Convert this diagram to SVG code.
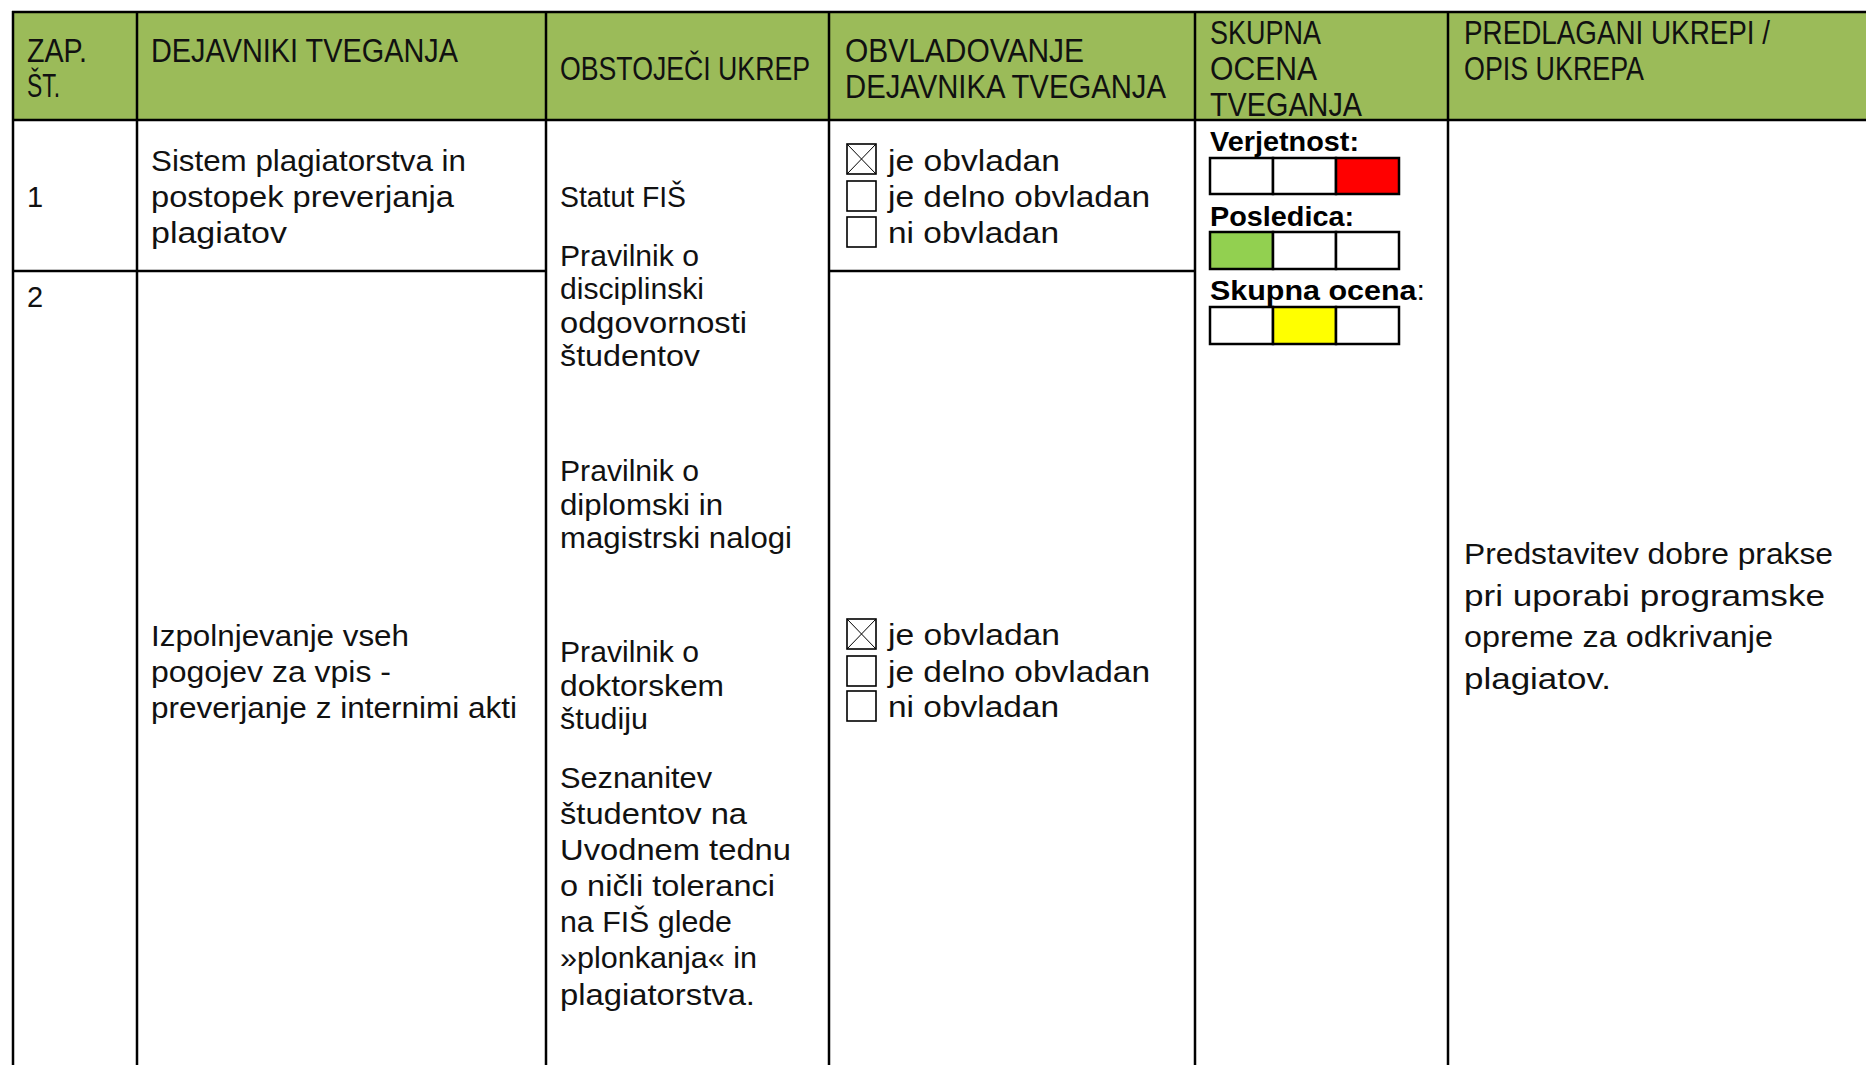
<svg xmlns="http://www.w3.org/2000/svg" width="1866" height="1065" viewBox="0 0 1866 1065">
<style>
.ln{stroke:#000;stroke-width:2.5;fill:none}
.h{font-family:"Liberation Sans",Arial,sans-serif;font-size:33px;fill:#111}
.t{font-family:"Liberation Sans",Arial,sans-serif;font-size:29px;fill:#111}
.b{font-family:"Liberation Sans",Arial,sans-serif;font-size:28px;font-weight:bold;fill:#000}
.cb{fill:#fff;stroke:#000;stroke-width:1.6}
.x{stroke:#000;stroke-width:1}
.sq{stroke:#000;stroke-width:2.5}
</style>
<defs>
<g id="box"><rect class="cb" x="0" y="0" width="29" height="30"/></g>
<g id="xbox"><rect class="cb" x="0" y="0" width="29" height="30"/><path class="x" d="M0,0L29,30M29,0L0,30"/></g>
</defs>
<rect x="0" y="0" width="1866" height="1065" fill="#fff"/>
<rect x="13" y="12" width="1853" height="108" fill="#9BBB59"/>

<g id="grid">
<path class="ln" d="M12,12H1866M12,120H1866M12,271H546M829,271H1195"/>
<path class="ln" d="M13,11V1065M137,11V1065M546,11V1065M829,11V1065M1195,11V1065M1448,11V1065"/>
</g>

<g id="header">
<text class="h" x="27" y="62" textLength="60" lengthAdjust="spacingAndGlyphs">ZAP.</text>
<text class="h" x="27" y="97" textLength="33" lengthAdjust="spacingAndGlyphs">ŠT.</text>
<text class="h" x="151" y="62" textLength="307" lengthAdjust="spacingAndGlyphs">DEJAVNIKI TVEGANJA</text>
<text class="h" x="560" y="80" textLength="250" lengthAdjust="spacingAndGlyphs">OBSTOJEČI UKREP</text>
<text class="h" x="845" y="62" textLength="239" lengthAdjust="spacingAndGlyphs">OBVLADOVANJE</text>
<text class="h" x="845" y="98" textLength="321" lengthAdjust="spacingAndGlyphs">DEJAVNIKA TVEGANJA</text>
<text class="h" x="1210" y="44" textLength="111" lengthAdjust="spacingAndGlyphs">SKUPNA</text>
<text class="h" x="1210" y="80" textLength="107" lengthAdjust="spacingAndGlyphs">OCENA</text>
<text class="h" x="1210" y="116" textLength="152" lengthAdjust="spacingAndGlyphs">TVEGANJA</text>
<text class="h" x="1464" y="44" textLength="306" lengthAdjust="spacingAndGlyphs">PREDLAGANI UKREPI /</text>
<text class="h" x="1464" y="80" textLength="180" lengthAdjust="spacingAndGlyphs">OPIS UKREPA</text>
</g>

<g id="row1">
<text class="t" x="27" y="207">1</text>
<text class="t" x="151" y="171" textLength="315" lengthAdjust="spacingAndGlyphs">Sistem plagiatorstva in</text>
<text class="t" x="151" y="207" textLength="303" lengthAdjust="spacingAndGlyphs">postopek preverjanja</text>
<text class="t" x="151" y="243" textLength="136" lengthAdjust="spacingAndGlyphs">plagiatov</text>
</g>

<g id="row2">
<text class="t" x="27" y="307">2</text>
<text class="t" x="151" y="646" textLength="258" lengthAdjust="spacingAndGlyphs">Izpolnjevanje vseh</text>
<text class="t" x="151" y="682" textLength="240" lengthAdjust="spacingAndGlyphs">pogojev za vpis -</text>
<text class="t" x="151" y="718" textLength="366" lengthAdjust="spacingAndGlyphs">preverjanje z internimi akti</text>
</g>

<g id="ukrepi">
<text class="t" x="560" y="207" textLength="126" lengthAdjust="spacingAndGlyphs">Statut FIŠ</text>
<text class="t" x="560" y="266" textLength="139" lengthAdjust="spacingAndGlyphs">Pravilnik o</text>
<text class="t" x="560" y="299" textLength="144" lengthAdjust="spacingAndGlyphs">disciplinski</text>
<text class="t" x="560" y="333" textLength="187" lengthAdjust="spacingAndGlyphs">odgovornosti</text>
<text class="t" x="560" y="366" textLength="140" lengthAdjust="spacingAndGlyphs">študentov</text>
<text class="t" x="560" y="481" textLength="139" lengthAdjust="spacingAndGlyphs">Pravilnik o</text>
<text class="t" x="560" y="515" textLength="163" lengthAdjust="spacingAndGlyphs">diplomski in</text>
<text class="t" x="560" y="548" textLength="232" lengthAdjust="spacingAndGlyphs">magistrski nalogi</text>
<text class="t" x="560" y="662" textLength="139" lengthAdjust="spacingAndGlyphs">Pravilnik o</text>
<text class="t" x="560" y="696" textLength="164" lengthAdjust="spacingAndGlyphs">doktorskem</text>
<text class="t" x="560" y="729" textLength="88" lengthAdjust="spacingAndGlyphs">študiju</text>
<text class="t" x="560" y="788" textLength="152" lengthAdjust="spacingAndGlyphs">Seznanitev</text>
<text class="t" x="560" y="824" textLength="187" lengthAdjust="spacingAndGlyphs">študentov na</text>
<text class="t" x="560" y="860" textLength="231" lengthAdjust="spacingAndGlyphs">Uvodnem tednu</text>
<text class="t" x="560" y="896" textLength="215" lengthAdjust="spacingAndGlyphs">o ničli toleranci</text>
<text class="t" x="560" y="932" textLength="172" lengthAdjust="spacingAndGlyphs">na FIŠ glede</text>
<text class="t" x="560" y="968" textLength="197" lengthAdjust="spacingAndGlyphs">»plonkanja« in</text>
<text class="t" x="560" y="1005" textLength="195" lengthAdjust="spacingAndGlyphs">plagiatorstva.</text>
</g>

<g id="obvladovanje1">
<use href="#xbox" x="847" y="144"/>
<use href="#box" x="847" y="181"/>
<use href="#box" x="847" y="217"/>
<text class="t" x="888" y="171" textLength="172" lengthAdjust="spacingAndGlyphs">je obvladan</text>
<text class="t" x="888" y="207" textLength="262" lengthAdjust="spacingAndGlyphs">je delno obvladan</text>
<text class="t" x="888" y="243" textLength="171" lengthAdjust="spacingAndGlyphs">ni obvladan</text>
</g>

<g id="obvladovanje2">
<use href="#xbox" x="847" y="619"/>
<use href="#box" x="847" y="656"/>
<use href="#box" x="847" y="691"/>
<text class="t" x="888" y="645" textLength="172" lengthAdjust="spacingAndGlyphs">je obvladan</text>
<text class="t" x="888" y="682" textLength="262" lengthAdjust="spacingAndGlyphs">je delno obvladan</text>
<text class="t" x="888" y="717" textLength="171" lengthAdjust="spacingAndGlyphs">ni obvladan</text>
</g>

<g id="ocena">
<text class="b" x="1210" y="151" textLength="149" lengthAdjust="spacingAndGlyphs">Verjetnost:</text>
<rect class="sq" x="1210" y="158" width="63" height="36" fill="#fff"/>
<rect class="sq" x="1273" y="158" width="63" height="36" fill="#fff"/>
<rect class="sq" x="1336" y="158" width="63" height="36" fill="#FF0000"/>
<text class="b" x="1210" y="226" textLength="144" lengthAdjust="spacingAndGlyphs">Posledica:</text>
<rect class="sq" x="1210" y="232" width="63" height="37" fill="#92D050"/>
<rect class="sq" x="1273" y="232" width="63" height="37" fill="#fff"/>
<rect class="sq" x="1336" y="232" width="63" height="37" fill="#fff"/>
<text class="b" x="1210" y="300" textLength="215" lengthAdjust="spacingAndGlyphs">Skupna ocena<tspan font-weight="normal">:</tspan></text>
<rect class="sq" x="1210" y="307" width="63" height="37" fill="#fff"/>
<rect class="sq" x="1273" y="307" width="63" height="37" fill="#FFFF00"/>
<rect class="sq" x="1336" y="307" width="63" height="37" fill="#fff"/>
</g>

<g id="predlagani">
<text class="t" x="1464" y="564" textLength="369" lengthAdjust="spacingAndGlyphs">Predstavitev dobre prakse</text>
<text class="t" x="1464" y="606" textLength="361" lengthAdjust="spacingAndGlyphs">pri uporabi programske</text>
<text class="t" x="1464" y="647" textLength="309" lengthAdjust="spacingAndGlyphs">opreme za odkrivanje</text>
<text class="t" x="1464" y="689" textLength="147" lengthAdjust="spacingAndGlyphs">plagiatov.</text>
</g>
</svg>
